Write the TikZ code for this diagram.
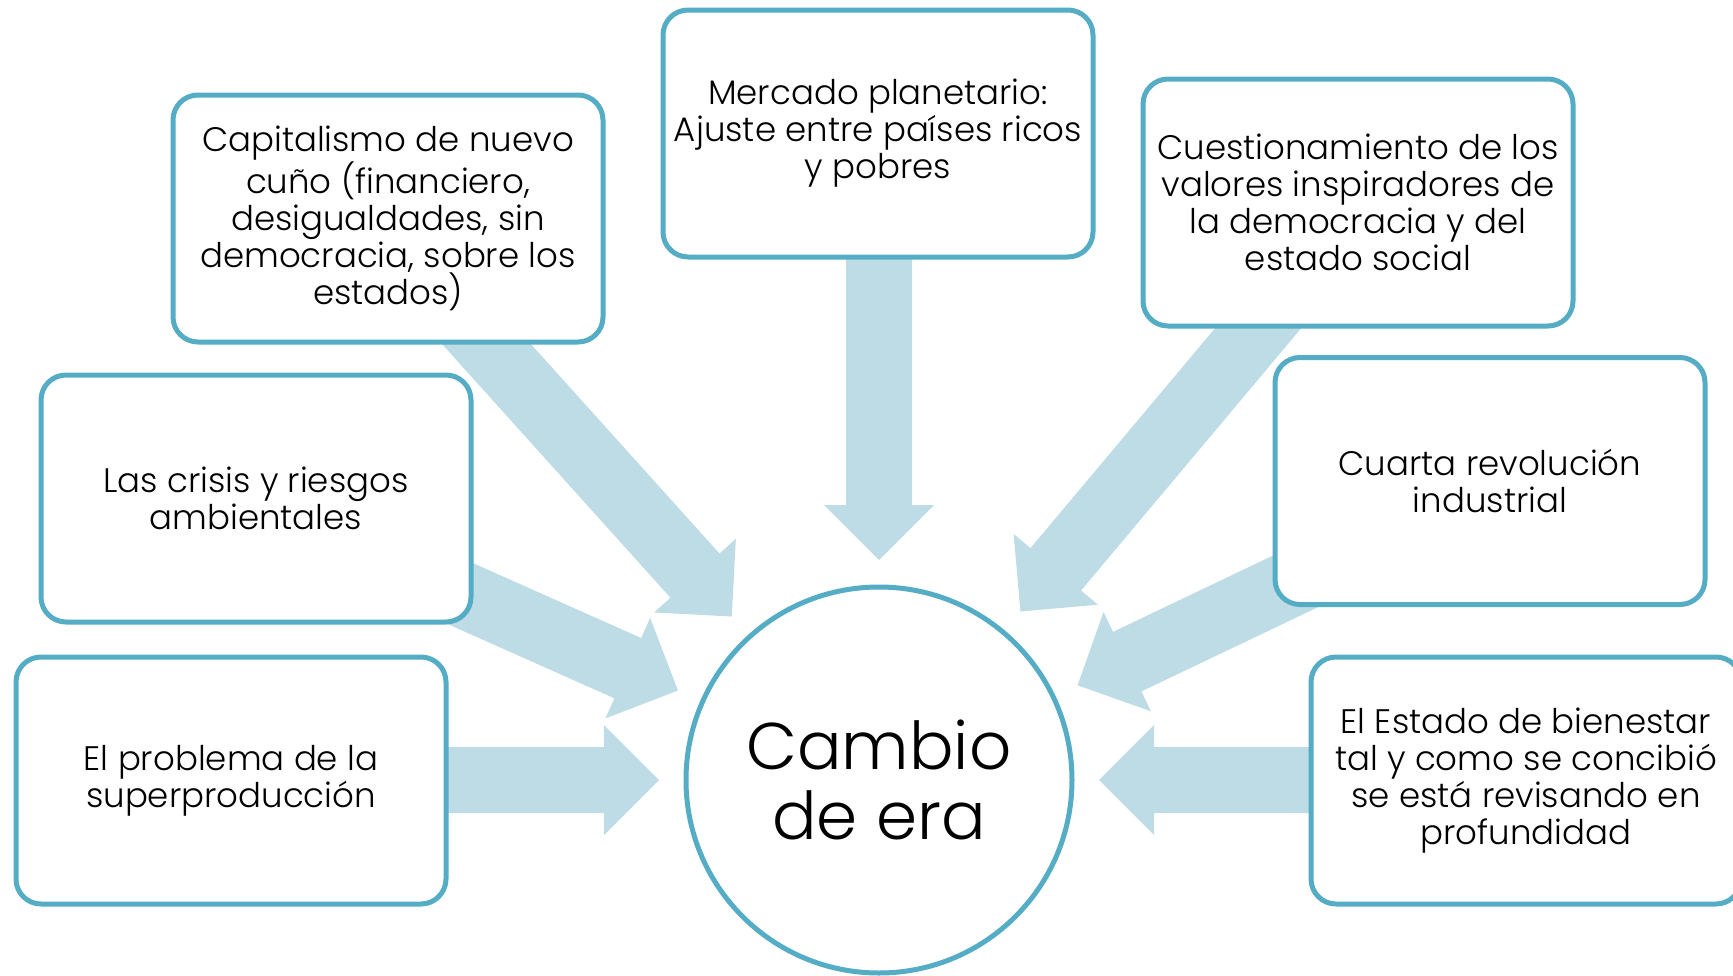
\documentclass[tikz,border=0pt]{standalone}
\usepackage{fontspec}
\setmainfont{Poppins}[UprightFont=* Light]
\usetikzlibrary{calc}
\definecolor{bordc}{HTML}{55ADC5}
\definecolor{arrc}{HTML}{BEDCE6}
\newcommand{\blockarr}[2]{% #1 tail coordinate, #2 tip coordinate
  \path ($(#2)!55pt!(#1)$) coordinate (hb);
  \fill[arrowfill] (#2)
    -- ($(hb)!55pt!90:(#1)$)
    -- ($(hb)!33pt!90:(#1)$)
    -- ($(#1)!33pt!-90:(#2)$)
    -- ($(#1)!33pt!90:(#2)$)
    -- ($(hb)!33pt!-90:(#1)$)
    -- ($(hb)!55pt!-90:(#1)$)
    -- cycle;}
\begin{document}
\begin{tikzpicture}[x=1pt,y=-1pt,
  txtbox/.style={draw=bordc, line width=5pt, fill=white, rounded corners=25pt,
    minimum width=430pt, minimum height=247pt, align=center, inner sep=0pt,
    font=\fontsize{34}{37}\selectfont},
  hubnode/.style={circle, draw=bordc, line width=5pt, fill=white,
    minimum size=386pt, align=center, inner sep=0pt,
    font=\fontsize{66}{70}\selectfont},
  arrowfill/.style={fill=arrc, draw=none}]
\useasboundingbox (0,0) rectangle (1733,975);
\clip (0,0) rectangle (1733,975);

\node[hubnode] (hub) at (879,780) {Cambio\\de era};

% arrow tips and tails
\foreach \n/\a/\r in {1/-132/640, 2/-90/600, 3/-50/680, 4/-156/550, 5/180/600, 6/-25.5/550, 7/0/600}{
  \coordinate (tip\n) at ($(hub.center)+(\a:220)$);
  \coordinate (tail\n) at ($(hub.center)+(\a:\r)$);
}
\blockarr{tail1}{tip1}
\blockarr{tail2}{tip2}
\blockarr{tail3}{tip3}
\blockarr{tail4}{tip4}
\blockarr{tail5}{tip5}
\blockarr{tail6}{tip6}
\blockarr{tail7}{tip7}

\node[txtbox] (b1) at (388,218.5) {Capitalismo de nuevo\\cuño (financiero,\\desigualdades, sin\\democracia, sobre los\\estados)};
\node[txtbox] (b2) at (878,133.5) {Mercado planetario:\\Ajuste entre países ricos\\y pobres};
\node[txtbox] (b3) at (1358,202.5) {Cuestionamiento de los\\valores inspiradores de\\la democracia y del\\estado social};
\node[txtbox] (b4) at (256,498.5) {Las crisis y riesgos\\ambientales};
\node[txtbox] (b5) at (1490,481) {Cuarta revolución\\industrial};
\node[txtbox] (b6) at (231,780.5) {El problema de la\\superproducción};
\node[txtbox] (b7) at (1526,780.5) {El Estado de bienestar\\tal y como se concibió\\se está revisando en\\profundidad};
\end{tikzpicture}
\end{document}
